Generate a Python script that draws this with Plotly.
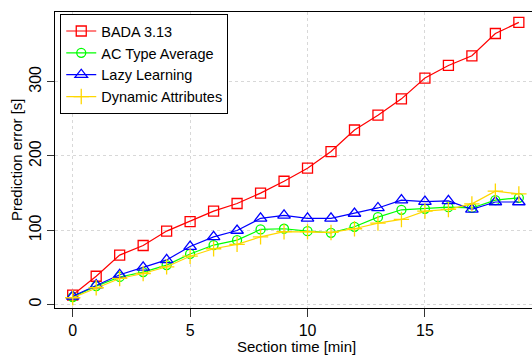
import plotly.graph_objects as go

section_time = list(range(20))
bada = [12.6, 38, 66.5, 79.4, 98.8, 111.7, 125.7, 136, 150, 166, 183.6, 206, 235, 255, 277, 305, 322, 335, 365, 380]
ac_type_avg = [10, 24.7, 37, 43.6, 53, 68, 80, 86.6, 101, 102, 98.7, 96.5, 104.6, 117.6, 127.5, 128.8, 131, 130, 140.5, 143.6]
lazy = [11, 26, 40, 50, 60, 78, 91, 99.6, 116, 120, 116, 116, 122.5, 130, 140.5, 138.6, 139.6, 128, 138, 138]
dynamic = [9, 22.5, 35, 41.7, 50.7, 65, 75, 81, 91, 98, 98, 97, 102, 109.5, 114.5, 125.7, 128, 135.5, 152.6, 149]

series = [
    ("BADA 3.13", bada, "#FF0000", "square-open", 10),
    ("AC Type Average", ac_type_avg, "#00FF00", "circle-open", 9),
    ("Lazy Learning", lazy, "#0000FF", "triangle-up-open", 11),
    ("Dynamic Attributes", dynamic, "#FFD700", "cross-thin-open", 11),
]

fig = go.Figure()
for name, vals, color, sym, size in series:
    fig.add_trace(go.Scatter(
        x=section_time, y=vals, name=name, mode="lines+markers",
        line=dict(color=color, width=1.2),
        marker=dict(symbol=sym, size=size, color=color, line=dict(color=color, width=1.3)),
    ))

font = "Liberation Sans, Arial, sans-serif"
fig.update_layout(
    width=532, height=356,
    margin=dict(l=55, r=0, t=12, b=48, autoexpand=False),
    paper_bgcolor="white", plot_bgcolor="white",
    font=dict(family=font, size=15, color="black"),
    showlegend=True,
    legend=dict(
        x=0.011, y=0.993, xanchor="left", yanchor="top",
        bordercolor="black", borderwidth=1, bgcolor="white",
        font=dict(size=14.5), tracegroupgap=0, itemwidth=30,
    ),
    xaxis=dict(
        range=[-0.754, 19.56], tickvals=[0, 5, 10, 15], automargin=False,
        showgrid=True, gridcolor="#D8D8D8", griddash="dot", gridwidth=1,
        zeroline=False, showline=True, linecolor="black", linewidth=1, mirror=True,
        ticks="outside", ticklen=8, tickcolor="#333", tickfont=dict(size=16),
    ),
    yaxis=dict(
        range=[-4.8, 394], tickvals=[0, 100, 200, 300], automargin=False,
        showgrid=True, gridcolor="#D8D8D8", griddash="dot", gridwidth=1,
        zeroline=False, showline=True, linecolor="black", linewidth=1, mirror=False,
        ticks="outside", ticklen=7, tickcolor="#333", tickfont=dict(size=16),
        tickangle=-90,
    ),
    annotations=[
        dict(text="Section time [min]", xref="paper", yref="paper", x=0.506, y=0,
             yshift=-38, xanchor="center", yanchor="middle", showarrow=False,
             font=dict(size=15)),
        dict(text="Prediction error [s]", xref="paper", yref="paper", x=0, y=0.5,
             xshift=-39, xanchor="center", yanchor="middle", textangle=-90,
             showarrow=False, font=dict(size=15)),
    ],
)
fig.write_html("out.html", config={"displayModeBar": False},
               post_script="document.body.style.margin='0';document.body.style.overflow='hidden';")
